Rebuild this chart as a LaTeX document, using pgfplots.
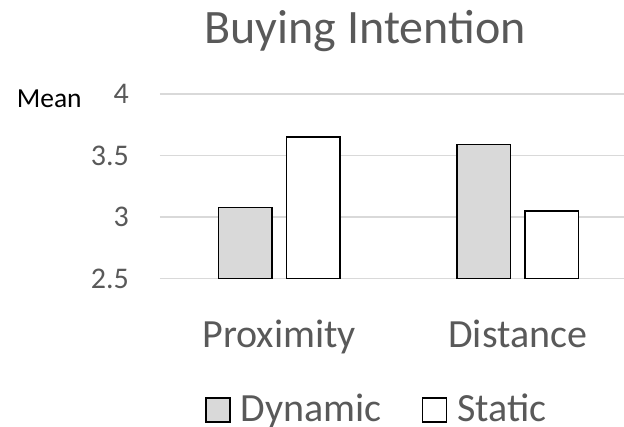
\documentclass[border=0pt]{standalone}
\usepackage{pgfplots}
\pgfplotsset{compat=1.18}
\usepackage{fontspec}
\setmainfont{Carlito}
\definecolor{txtgray}{HTML}{595959}
\definecolor{gridgray}{HTML}{D9D9D9}
\definecolor{dynfill}{HTML}{D9D9D9}

\begin{document}
\begin{tikzpicture}
\begin{axis}[
  scale only axis,
  width=477pt, height=184.7pt,
  xmin=-0.5, xmax=1.5,
  ymin=2.5, ymax=4,
  ytick={2.5,3,3.5,4},
  yticklabels={2.5,3,3.5,4},
  xtick={0,1},
  xticklabels={Proximity,Distance},
  axis line style={draw=none},
  major tick length=0pt,
  ymajorgrids,
  major grid style={gridgray, line width=1.3pt},
  /pgf/number format/assume math mode=true,
  yticklabel style={font=\fontsize{30}{34}\selectfont, text=txtgray, anchor=east, inner sep=0pt, xshift=-31pt},
  xticklabel style={font=\fontsize{40}{46}\selectfont, text=txtgray, anchor=base, inner sep=0pt, yshift=-68.6pt},
  title={Buying Intention},
  title style={at={(0.43,1.2385)}, anchor=base, font=\fontsize{48}{56}\selectfont, text=txtgray, inner sep=0pt},
  ylabel={Mean},
  ylabel style={rotate=-90, at={(-0.3005,0.928)}, anchor=base west, font=\fontsize{27.5}{32}\selectfont, text=black, inner sep=0pt},
  bar width=0.225,
  legend columns=2,
  legend style={at={(0.453,-0.705)}, anchor=center, draw=none, fill=none,
    font=\fontsize{40}{46}\selectfont, text=txtgray, inner sep=0pt,
    nodes={inner sep=0pt},
    cells={anchor=base west},
    /tikz/every even column/.append style={column sep=40pt}},
  legend image code/.code={%
    \draw[#1] (0pt,0pt) rectangle (24pt,24pt);
    \path (34pt,0pt);},
]
\addplot[ybar, bar shift=-0.142, draw=black, line width=1.5pt, fill=dynfill]
  coordinates {(0,3.08) (1,3.59)};
\addlegendentry{Dynamic}
\addplot[ybar, bar shift=0.143, draw=black, line width=1.5pt, fill=white]
  coordinates {(0,3.65) (1,3.05)};
\addlegendentry{Static}
\end{axis}
\pgfresetboundingbox
\useasboundingbox (-160pt,-148.3pt) rectangle (464pt,278.7pt);
\end{tikzpicture}
\end{document}
